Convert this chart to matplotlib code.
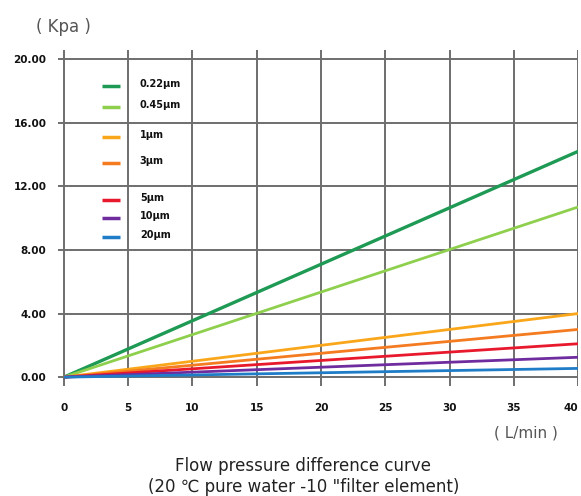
import numpy as np
import matplotlib
matplotlib.use('Agg')
import matplotlib.pyplot as plt

# Filter grades and pressure drop (kPa) at 0 and 40 L/min
LABELS = ['0.22µm', '0.45µm', '1µm', '3µm', '5µm', '10µm', '20µm']
FLOW = [0, 40]
DP_END = [14.2, 10.7, 4.0, 3.0, 2.1, 1.25, 0.55]
COLORS = ['#1E9A55', '#8ED04E', '#F9A61A', '#F47B20', '#E8192C', '#6F2C9E', '#1F7DC8']
WIDTHS = [2.4, 2.0, 2.0, 2.0, 2.0, 2.0, 2.0]

XTICKS = [0, 5, 10, 15, 20, 25, 30, 35, 40]
YTICKS = [0, 4, 8, 12, 16, 20]

# legend rows (axes fraction) - grouped like the original
LEG_Y = [0.891, 0.829, 0.740, 0.663, 0.553, 0.499, 0.443]

plt.rcParams['font.family'] = ['Liberation Sans Narrow', 'DejaVu Sans']

figure = plt.figure(figsize=(5.81, 4.96), dpi=100)
ax = figure.add_axes([0.099, 0.222, 0.896, 0.678])

for i in range(len(LABELS)):
    ax.plot(FLOW, [0, DP_END[i]], '-', color=COLORS[i], linewidth=WIDTHS[i], zorder=3,
            solid_capstyle='butt')
    # hand-made legend
    ax.plot([0.085, 0.12], [LEG_Y[i], LEG_Y[i]], transform=ax.transAxes, color=COLORS[i],
            linewidth=2.5, solid_capstyle='butt', zorder=4)
    ax.text(0.158, LEG_Y[i] + 0.006, LABELS[i], transform=ax.transAxes, fontsize=7,
            fontweight='bold', va='center', ha='left', color='#111111')

ax.set_xlim(-0.5, 40)
ax.set_ylim(-0.55, 20.6)
ax.set_xticks(XTICKS)
ax.set_yticks(YTICKS)
ax.set_xticklabels([str(x) for x in XTICKS], fontsize=7.5, fontweight='bold')
ax.set_yticklabels(['%.2f' % y for y in YTICKS], fontsize=7.5, fontweight='bold')
ax.get_xticklabels()[-1].set_horizontalalignment('right')
ax.tick_params(length=0, colors='#111111')
ax.tick_params(axis='x', pad=12)
ax.tick_params(axis='y', pad=8)
ax.grid(color='#6e6e6e', linewidth=1.4)
ax.set_axisbelow(True)
for s in ax.spines.values():
    s.set_visible(False)

figure.text(0.11, 0.945, '( Kpa )', fontsize=12, color='#555555', ha='center', va='center',
            family='DejaVu Sans')
figure.text(0.905, 0.128, '( L/min )', fontsize=11, color='#555555', ha='center', va='center',
            family='DejaVu Sans')
figure.text(0.522, 0.040, 'Flow pressure difference curve\n(20 ℃ pure water -10 "filter element)',
            fontsize=12, color='#222222', ha='center', va='center', linespacing=1.2,
            family='DejaVu Sans')

figure.savefig('out.png', dpi=100)
